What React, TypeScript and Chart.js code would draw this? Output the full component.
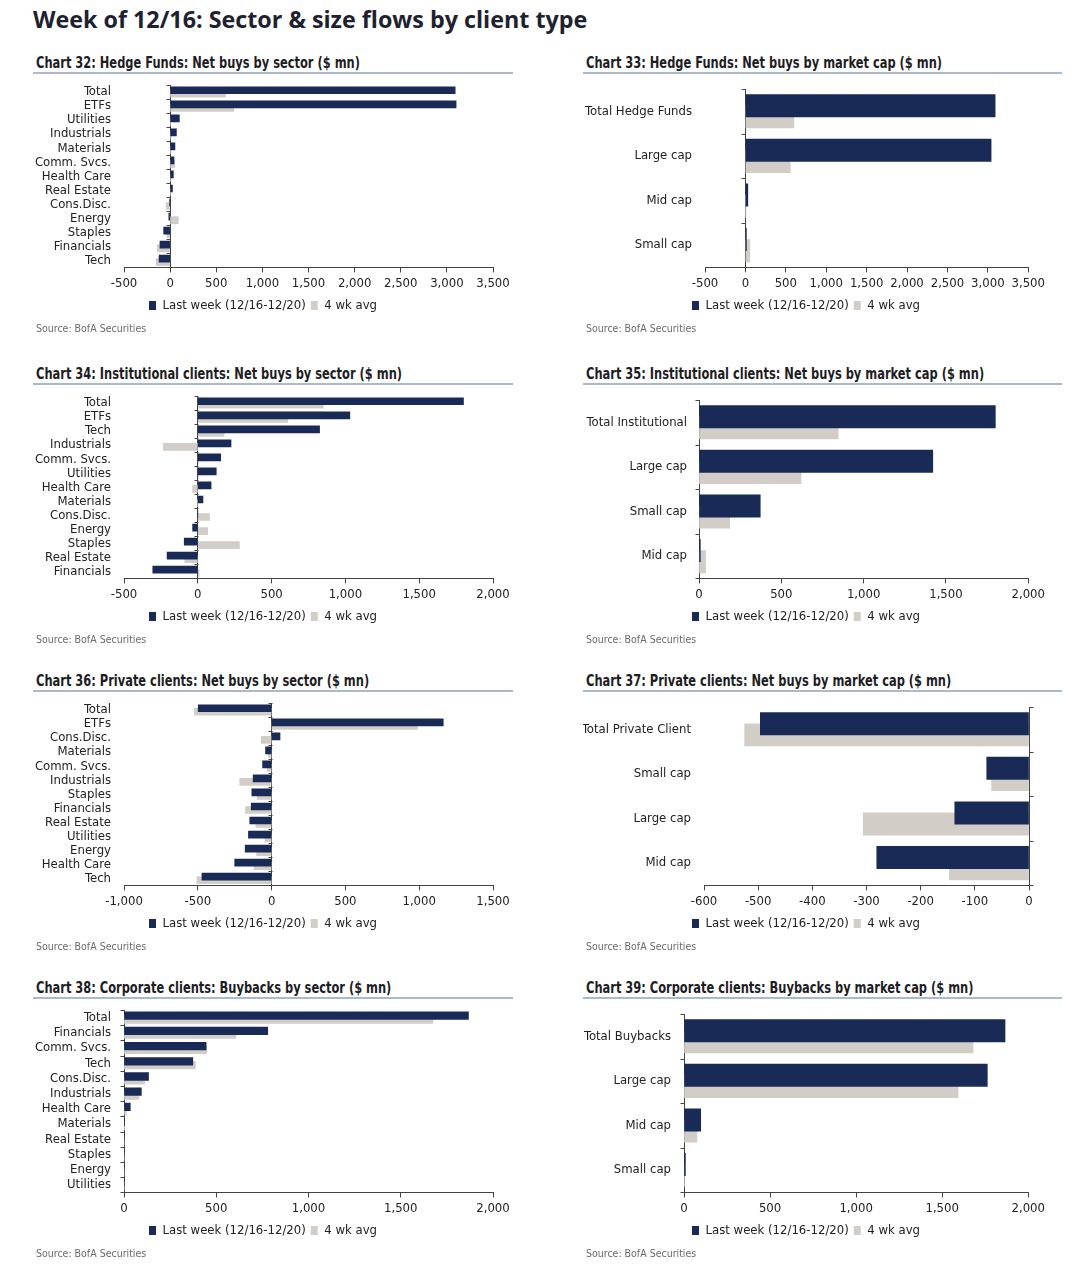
import React, { useEffect, useRef } from "react";
import { Chart, registerables } from "chart.js";

Chart.register(...registerables);

const NARROW = '"Liberation Sans Narrow", "Arial Narrow", "DejaVu Sans Condensed", sans-serif';
const NAVY = "#1a2a56";
const GREY = "#d2cdc7";
const SERIES_NAMES = ["Last week (12/16-12/20)", "4 wk avg"];

// Chart 32: Hedge Funds by sector
const hfSectorLabels = ["Total", "ETFs", "Utilities", "Industrials", "Materials", "Comm. Svcs.", "Health Care", "Real Estate", "Cons.Disc.", "Energy", "Staples", "Financials", "Tech"];
const hfSectorLast = [3090, 3100, 100, 68, 52, 42, 35, 25, -3, -14, -70, -110, -120];
const hfSectorAvg = [600, 690, 5, 10, 8, 50, 10, 5, -43, 90, -35, -140, -150];

// Chart 33: Hedge Funds by market cap
const hfCapLabels = ["Total Hedge Funds", "Large cap", "Mid cap", "Small cap"];
const hfCapLast = [3090, 3040, 30, 12];
const hfCapAvg = [600, 555, 3, 55];

// Chart 34: Institutional by sector
const instSectorLabels = ["Total", "ETFs", "Tech", "Industrials", "Comm. Svcs.", "Utilities", "Health Care", "Materials", "Cons.Disc.", "Energy", "Staples", "Real Estate", "Financials"];
const instSectorLast = [1800, 1030, 825, 225, 155, 125, 90, 35, 0, -35, -92, -208, -305];
const instSectorAvg = [850, 610, 178, -233, 5, 5, -35, 0, 79, 67, 282, -88, 9];

// Chart 35: Institutional by market cap
const instCapLabels = ["Total Institutional", "Large cap", "Small cap", "Mid cap"];
const instCapLast = [1800, 1420, 372, 8];
const instCapAvg = [845, 620, 186, 40];

// Chart 36: Private clients by sector
const pcSectorLabels = ["Total", "ETFs", "Cons.Disc.", "Materials", "Comm. Svcs.", "Industrials", "Staples", "Financials", "Real Estate", "Utilities", "Energy", "Health Care", "Tech"];
const pcSectorLast = [-497, 1163, 57, -41, -61, -125, -134, -138, -148, -157, -179, -250, -472];
const pcSectorAvg = [-524, 987, -70, -23, -30, -216, -98, -177, -107, -45, -102, -120, -506];

// Chart 37: Private clients by market cap
const pcCapLabels = ["Total Private Client", "Small cap", "Large cap", "Mid cap"];
const pcCapLast = [-496, -78, -137, -281];
const pcCapAvg = [-525, -69, -306, -147];

// Chart 38: Corporate buybacks by sector
const corpSectorLabels = ["Total", "Financials", "Comm. Svcs.", "Tech", "Cons.Disc.", "Industrials", "Health Care", "Materials", "Real Estate", "Staples", "Energy", "Utilities"];
const corpSectorLast = [1867, 779, 445, 373, 133, 94, 34, 2, 0, 0, 0, 0];
const corpSectorAvg = [1674, 607, 448, 387, 112, 81, 13, 1, 0, 0, 0, 0];

// Chart 39: Corporate buybacks by market cap
const corpCapLabels = ["Total Buybacks", "Large cap", "Mid cap", "Small cap"];
const corpCapLast = [1865, 1762, 97, 8];
const corpCapAvg = [1679, 1592, 75, 3];

const ROW_Y = [63, 374, 681, 988];
const COL_X = [33, 583];
const PAD_TOP = [9, 13];

type Spec = {
  title: string;
  labels: string[];
  last: number[];
  avg: number[];
  min: number;
  max: number;
  step: number;
  col: number;
  row: number;
  axisLeft: number;
  labelEnd: number;
  tickDir: number;
};

const specs: Spec[] = [
  { title: "Chart 32: Hedge Funds: Net buys by sector ($ mn)", labels: hfSectorLabels, last: hfSectorLast, avg: hfSectorAvg, min: -500, max: 3500, step: 500, col: 0, row: 0, axisLeft: 124, labelEnd: 111, tickDir: -1 },
  { title: "Chart 33: Hedge Funds: Net buys by market cap ($ mn)", labels: hfCapLabels, last: hfCapLast, avg: hfCapAvg, min: -500, max: 3500, step: 500, col: 1, row: 0, axisLeft: 705, labelEnd: 692, tickDir: -1 },
  { title: "Chart 34: Institutional clients: Net buys by sector ($ mn)", labels: instSectorLabels, last: instSectorLast, avg: instSectorAvg, min: -500, max: 2000, step: 500, col: 0, row: 1, axisLeft: 124, labelEnd: 111, tickDir: -1 },
  { title: "Chart 35: Institutional clients: Net buys by market cap ($ mn)", labels: instCapLabels, last: instCapLast, avg: instCapAvg, min: 0, max: 2000, step: 500, col: 1, row: 1, axisLeft: 699, labelEnd: 687, tickDir: -1 },
  { title: "Chart 36: Private clients: Net buys by sector ($ mn)", labels: pcSectorLabels, last: pcSectorLast, avg: pcSectorAvg, min: -1000, max: 1500, step: 500, col: 0, row: 2, axisLeft: 124, labelEnd: 111, tickDir: -1 },
  { title: "Chart 37: Private clients: Net buys by market cap ($ mn)", labels: pcCapLabels, last: pcCapLast, avg: pcCapAvg, min: -600, max: 0, step: 100, col: 1, row: 2, axisLeft: 704, labelEnd: 691, tickDir: 1 },
  { title: "Chart 38: Corporate clients: Buybacks by sector ($ mn)", labels: corpSectorLabels, last: corpSectorLast, avg: corpSectorAvg, min: 0, max: 2000, step: 500, col: 0, row: 3, axisLeft: 124, labelEnd: 111, tickDir: -1 },
  { title: "Chart 39: Corporate clients: Buybacks by market cap ($ mn)", labels: corpCapLabels, last: corpCapLast, avg: corpCapAvg, min: 0, max: 2000, step: 500, col: 1, row: 3, axisLeft: 684, labelEnd: 671, tickDir: -1 },
];

const catTicksPlugin = {
  id: "catTicks",
  afterDatasetsDraw(chart: any, _args: any, opts: any) {
    const xs = chart.scales.x;
    const ys = chart.scales.y;
    const n = chart.data.labels.length;
    const x0 = Math.round(xs.getPixelForValue(0)) + 0.5;
    const stepPx = (ys.bottom - ys.top) / n;
    const ctx = chart.ctx;
    ctx.save();
    ctx.strokeStyle = "#444";
    ctx.lineWidth = 1;
    for (let i = 0; i <= n; i++) {
      const py = Math.round(ys.top + i * stepPx) + 0.5;
      ctx.beginPath();
      ctx.moveTo(x0, py);
      ctx.lineTo(x0 + (opts.dir || -1) * 4, py);
      ctx.stroke();
    }
    ctx.restore();
  },
};

const CANVAS_W = [480, 465];
const CANVAS_H = 246;

function Panel({ spec }: { spec: Spec }) {
  const ref = useRef<HTMLCanvasElement | null>(null);
  const px = COL_X[spec.col];
  const ty = ROW_Y[spec.row];
  const cw = CANVAS_W[spec.col];
  useEffect(() => {
    if (!ref.current) return;
    const yWidth = spec.axisLeft - px;
    const padRight = px + cw - (spec.col === 0 ? 493 : 1029);
    const chart = new Chart(ref.current, {
      type: "bar",
      data: {
        labels: spec.labels,
        datasets: [
          { label: SERIES_NAMES[0], data: spec.last, backgroundColor: NAVY, categoryPercentage: 0.5, barPercentage: 2 },
          { label: SERIES_NAMES[1], data: spec.avg, backgroundColor: GREY, categoryPercentage: 0.5, barPercentage: 2 },
        ],
      },
      plugins: [catTicksPlugin],
      options: {
        indexAxis: "y",
        animation: false,
        responsive: false,
        devicePixelRatio: 1,
        layout: { padding: { top: PAD_TOP[spec.col], right: padRight, left: 0, bottom: 0 } },
        plugins: {
          tooltip: { enabled: false },
          catTicks: { dir: spec.tickDir },
          legend: {
            position: "bottom",
            labels: {
              boxWidth: 7,
              boxHeight: 9,
              padding: 5,
              color: "#222",
              font: { family: NARROW, size: 13 },
            },
          },
        } as any,
        scales: {
          x: {
            type: "linear",
            min: spec.min,
            max: spec.max,
            ticks: {
              stepSize: spec.step,
              color: "#222",
              font: { family: NARROW, size: 13 },
              padding: 3,
              maxRotation: 0,
              autoSkip: false,
              callback: (v: any) => Number(v).toLocaleString("en-US"),
            },
            grid: {
              color: (c: any) => (c.tick && c.tick.value === 0 ? "#444" : "rgba(0,0,0,0)"),
              tickColor: "#444",
              tickLength: 5,
              lineWidth: 1,
            },
            border: { display: true, color: "#444", width: 1 },
          },
          y: {
            type: "category",
            ticks: {
              color: "#222",
              font: { family: NARROW, size: 13 },
              padding: spec.axisLeft - spec.labelEnd,
              autoSkip: false,
            },
            grid: { display: false, drawTicks: false },
            border: { display: false },
            afterFit: (s: any) => {
              s.width = yWidth;
              s.paddingTop = 0;
              s.paddingBottom = 0;
            },
          },
        },
      },
    });
    return () => chart.destroy();
  }, []);
  return (
    <>
      <div
        style={{
          position: "absolute",
          left: px + 3,
          top: ty - 10,
          fontFamily: NARROW,
          fontWeight: 700,
          fontSize: 15.5,
          lineHeight: "20px",
          color: "#1d1d24",
          whiteSpace: "nowrap",
          transform: "scaleX(0.82)",
          transformOrigin: "0 50%",
        }}
      >
        {spec.title}
      </div>
      <div
        style={{
          position: "absolute",
          left: px,
          top: ty + 9,
          width: spec.col === 0 ? 480 : 479,
          height: 2,
          background: "#a9b9cf",
        }}
      />
      <canvas
        ref={ref}
        width={cw}
        height={CANVAS_H}
        style={{ position: "absolute", left: px, top: ty + 13, width: cw, height: CANVAS_H }}
      />
      <div
        style={{
          position: "absolute",
          left: px + 3,
          top: ty + 258,
          fontFamily: NARROW,
          fontSize: 10.5,
          lineHeight: "14px",
          color: "#6a6a6a",
          whiteSpace: "nowrap",
        }}
      >
        Source: BofA Securities
      </div>
    </>
  );
}

export default function App() {
  return (
    <div style={{ position: "absolute", left: 0, top: 0, width: 1090, height: 1280, background: "#fff" }}>
      <div
        style={{
          position: "absolute",
          left: 33,
          top: 4,
          fontFamily: '"Open Sans", "DejaVu Sans", sans-serif',
          fontWeight: 700,
          fontSize: 23.3,
          lineHeight: "30px",
          color: "#1e2230",
          whiteSpace: "nowrap",
        }}
      >
        Week of 12/16: Sector &amp; size flows by client type
      </div>
      {specs.map((s, i) => (
        <Panel key={i} spec={s} />
      ))}
    </div>
  );
}
